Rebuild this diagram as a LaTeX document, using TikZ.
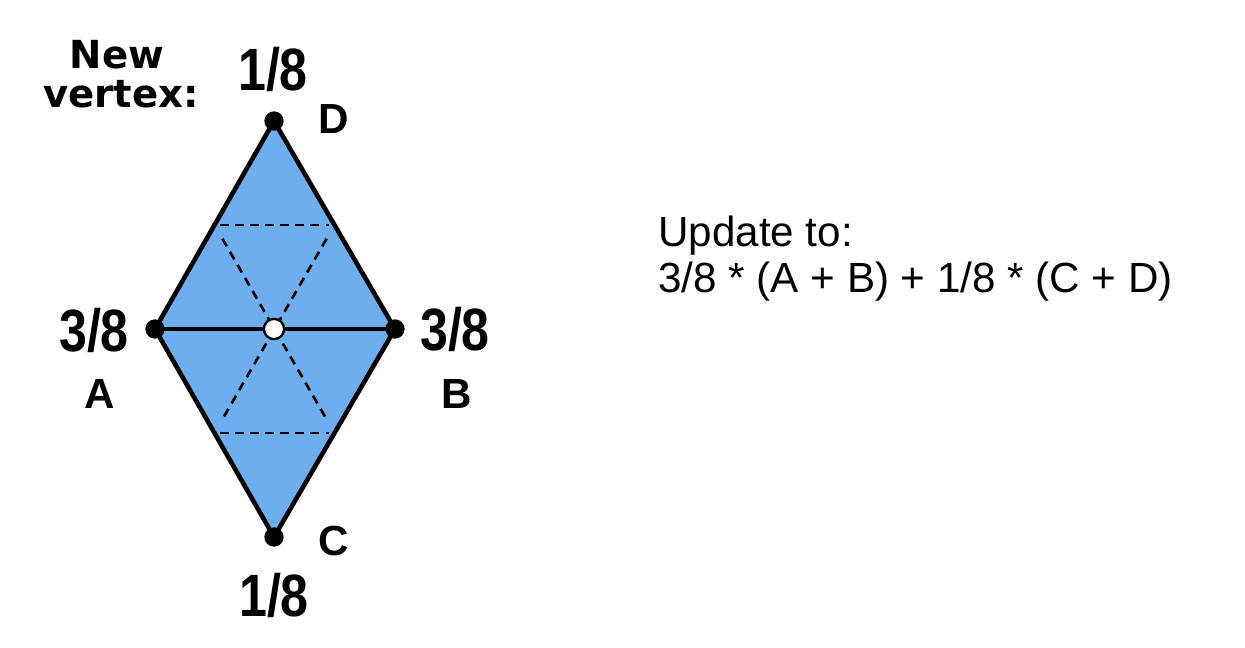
\documentclass[tikz,border=0pt]{standalone}
\usepackage{fontspec}
\usepackage{graphicx}
\usetikzlibrary{calc}
\setmainfont{Liberation Sans}
\newfontfamily\dejabold{DejaVu Sans}[BoldFont={DejaVu Sans Bold}]
\definecolor{diafill}{RGB}{111,174,238}
\tikzset{
  edgeline/.style={line width=2.6pt, line join=round},
  dashline/.style={line width=1.5pt, dash pattern=on 5pt off 3.6pt},
  vdot/.style={circle, fill=black, inner sep=0pt, minimum size=11pt},
  cdot/.style={circle, draw=black, fill=white, line width=1.3pt, inner sep=0pt, minimum size=11.5pt},
  weight/.style={anchor=base, inner sep=0pt, font=\fontsize{34}{38}\selectfont\bfseries},
  letter/.style={anchor=base, inner sep=0pt, font=\fontsize{24}{28}\selectfont\bfseries},
  plain/.style={anchor=base west, inner sep=0pt, font=\fontsize{24}{28}\selectfont},
  newv/.style={anchor=base, inner sep=0pt, font=\dejabold\fontsize{22}{24}\selectfont\bfseries},
}
\newcommand{\cond}[1]{\scalebox{0.84}[1]{#1}}
\begin{document}
\begin{tikzpicture}[x=0.02cm, y=-0.02cm]
\useasboundingbox (0,0) rectangle (1245,647);
% vertices
\coordinate (D) at (274,121);
\coordinate (A) at (155,329);
\coordinate (B) at (395,329);
\coordinate (C) at (274,537);
\coordinate (O) at (274,329);
\coordinate (mAD) at ($(A)!0.5!(D)$);
\coordinate (mBD) at ($(B)!0.5!(D)$);
\coordinate (mAC) at ($(A)!0.5!(C)$);
\coordinate (mBC) at ($(B)!0.5!(C)$);
% fill
\fill[diafill] (A) -- (D) -- (B) -- (C) -- cycle;
% dashed
\draw[dashline, shorten <=3pt, shorten >=3pt] (mAD) -- (mBD);
\draw[dashline, shorten <=3pt, shorten >=3pt] (mAC) -- (mBC);
\draw[dashline, shorten <=9pt, shorten >=9pt] (mAD) -- (mBC);
\draw[dashline, shorten <=9pt, shorten >=9pt] (mBD) -- (mAC);
% edges
\draw[edgeline] (A) -- (D) -- (B) -- (C) -- cycle;
\draw[edgeline] (A) -- (B);
% dots
\node[vdot] (dD) at (D) {};
\node[vdot] (dA) at (A) {};
\node[vdot] (dB) at (B) {};
\node[vdot] (dC) at (C) {};
\node[cdot] (dO) at (O) {};
% labels
\node[weight] (wD) at (273,90) {\cond{1/8}};
\node[weight] (wA) at (94,351) {\cond{3/8}};
\node[weight] (wB) at (455,350) {\cond{3/8}};
\node[weight] (wC) at (274,616) {\cond{1/8}};
\node[letter] (lD) at (334,133) {D};
\node[letter] (lA) at (100,408) {A};
\node[letter] (lB) at (457,408) {B};
\node[letter] (lC) at (334,555) {C};
\node[newv] (nv1) at (117,68) {New};
\node[newv] (nv2) at (121,107) {vertex:};
\node[plain] (u1) at (658,246) {Update to:};
\node[plain] (u2) at (658,292) {3/8 * (A + B) + 1/8 * (C + D)};
\end{tikzpicture}
\end{document}
